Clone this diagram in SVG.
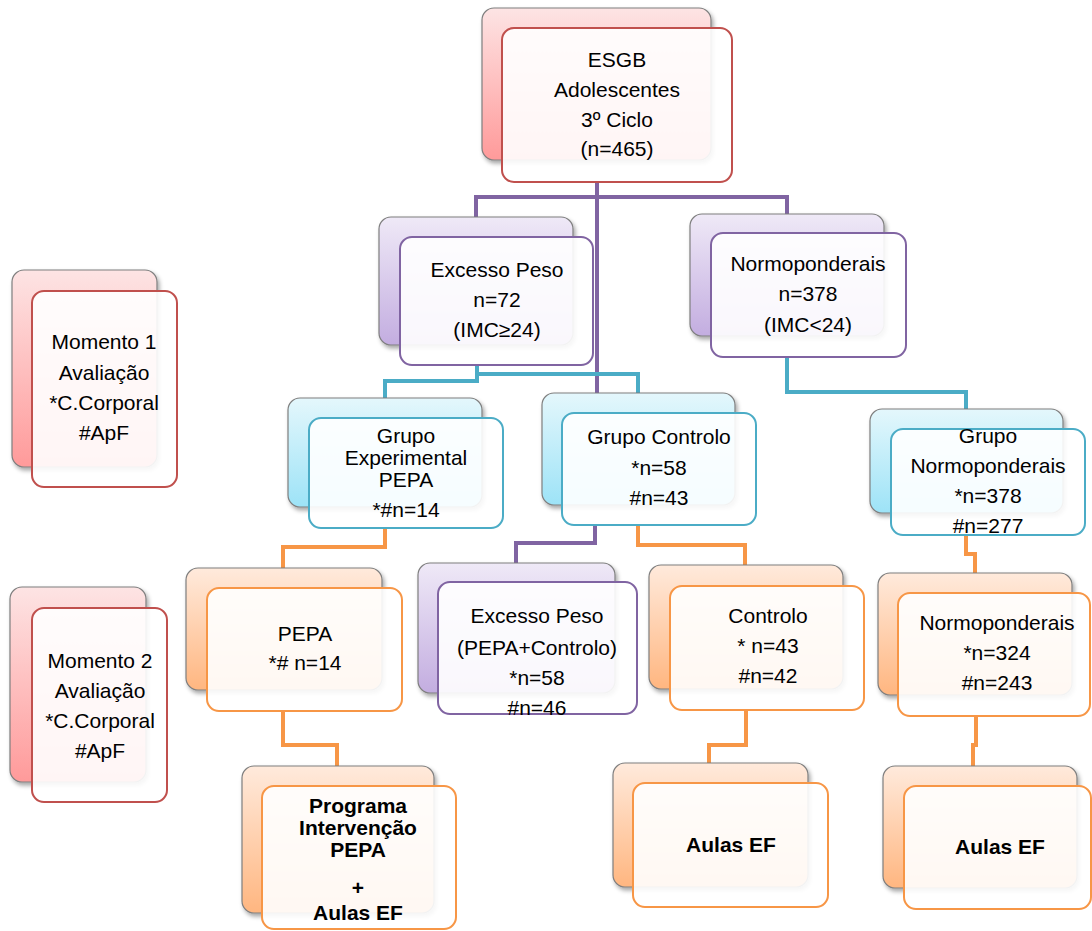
<svg xmlns="http://www.w3.org/2000/svg" width="1092" height="931" viewBox="0 0 1092 931">
<style>
.bk{stroke:#7f7f7f;stroke-width:1.2;filter:url(#sh)}
.fr{fill:#ffffff;fill-opacity:0.9;stroke-width:2}
.r .bk{fill:url(#gr)} .r .fr{stroke:#c0504d}
.p .bk{fill:url(#gp)} .p .fr{stroke:#8064a2}
.t .bk{fill:url(#gt)} .t .fr{stroke:#4bacc6}
.o .bk{fill:url(#go)} .o .fr{stroke:#f79646}
text{font-family:"Liberation Sans",Arial,sans-serif;font-size:21px;fill:#000;text-anchor:middle}
.b{font-weight:bold;font-size:21px}
.c{fill:none;stroke-width:4;stroke-linejoin:miter}
</style>
<defs>
<linearGradient id="gr" x1="0" y1="0" x2="0" y2="1"><stop offset="0" stop-color="#fde4e4"/><stop offset="1" stop-color="#ff9a9a"/></linearGradient>
<linearGradient id="gp" x1="0" y1="0" x2="0" y2="1"><stop offset="0" stop-color="#efe9f7"/><stop offset="1" stop-color="#c3ade0"/></linearGradient>
<linearGradient id="gt" x1="0" y1="0" x2="0" y2="1"><stop offset="0" stop-color="#e4f7fc"/><stop offset="1" stop-color="#9de3f7"/></linearGradient>
<linearGradient id="go" x1="0" y1="0" x2="0" y2="1"><stop offset="0" stop-color="#ffeadc"/><stop offset="1" stop-color="#ffb680"/></linearGradient>
<filter id="sh" x="-10%" y="-10%" width="130%" height="130%"><feDropShadow dx="2" dy="3" stdDeviation="2" flood-color="#000" flood-opacity="0.35"/></filter>
</defs>
<g id="connectors">
<path class="c" stroke="#8064a2" d="M597,182 V197 H476 V217 M597,197 H787 V214 M597,197 V393 M595,525 V543 H516 V563"/>
<path class="c" stroke="#4bacc6" d="M477,365 V381 H385 V398 M477,365 V374 H638 V393 M787,357 V392 H966 V409"/>
<path class="c" stroke="#f79646" d="M385,528 V547 H283 V568 M638,525 V545 H745 V565 M966,535 V554 H975 V573 M283,711 V745 H337 V766 M746,710 V745 H709 V763 M976,716 V745 H973 V766"/>
</g>
<g id="n-esgb" class="r">
<rect class="bk" x="482" y="8" width="229" height="152" rx="12"/>
<rect class="fr" x="502" y="28" width="230" height="154" rx="12"/>
<text x="617" y="67">ESGB</text><text x="617" y="97">Adolescentes</text><text x="617" y="127">3º Ciclo</text><text x="617" y="156">(n=465)</text>
</g>
<g id="n-excesso" class="p">
<rect class="bk" x="379" y="217" width="194" height="128" rx="12"/>
<rect class="fr" x="400" y="237" width="193" height="128" rx="12"/>
<text x="497" y="277">Excesso Peso</text><text x="497" y="307">n=72</text><text x="497" y="337">(IMC≥24)</text>
</g>
<g id="n-normo" class="p">
<rect class="bk" x="690" y="214" width="194" height="122" rx="12"/>
<rect class="fr" x="711" y="233" width="195" height="124" rx="12"/>
<text x="808" y="271">Normoponderais</text><text x="808" y="301">n=378</text><text x="808" y="332">(IMC&lt;24)</text>
</g>
<g id="n-momento1" class="r">
<rect class="bk" x="12" y="270" width="145" height="197" rx="12"/>
<rect class="fr" x="32" y="291" width="145" height="196" rx="12"/>
<text x="104" y="349">Momento 1</text><text x="104" y="380">Avaliação</text><text x="104" y="410">*C.Corporal</text><text x="104" y="440">#ApF</text>
</g>
<g id="n-momento2" class="r">
<rect class="bk" x="10" y="587" width="136" height="195" rx="12"/>
<rect class="fr" x="32" y="608" width="135" height="194" rx="12"/>
<text x="100" y="668">Momento 2</text><text x="100" y="698">Avaliação</text><text x="100" y="728">*C.Corporal</text><text x="100" y="758">#ApF</text>
</g>
<g id="n-grupo-exp" class="t">
<rect class="bk" x="288" y="398" width="194" height="109" rx="12"/>
<rect class="fr" x="309" y="418" width="194" height="110" rx="12"/>
<text x="406" y="443">Grupo</text><text x="406" y="465">Experimental</text><text x="406" y="487">PEPA</text><text x="406" y="517">*#n=14</text>
</g>
<g id="n-grupo-ctrl" class="t">
<rect class="bk" x="542" y="393" width="193" height="112" rx="12"/>
<rect class="fr" x="562" y="413" width="194" height="112" rx="12"/>
<text x="659" y="444">Grupo Controlo</text><text x="659" y="475">*n=58</text><text x="659" y="505">#n=43</text>
</g>
<g id="n-grupo-normo" class="t">
<rect class="bk" x="870" y="409" width="193" height="104" rx="12"/>
<rect class="fr" x="891" y="429" width="194" height="106" rx="12"/>
<text x="988" y="443">Grupo</text><text x="988" y="473">Normoponderais</text><text x="988" y="503">*n=378</text><text x="988" y="533">#n=277</text>
</g>
<g id="n-pepa" class="o">
<rect class="bk" x="186" y="568" width="196" height="122" rx="12"/>
<rect class="fr" x="207" y="588" width="195" height="123" rx="12"/>
<text x="305" y="641">PEPA</text><text x="305" y="670">*# n=14</text>
</g>
<g id="n-excesso-pc" class="p">
<rect class="bk" x="418" y="563" width="197" height="130" rx="12"/>
<rect class="fr" x="438" y="582" width="199" height="132" rx="12"/>
<text x="537" y="623">Excesso Peso</text><text x="537" y="655">(PEPA+Controlo)</text><text x="537" y="685">*n=58</text><text x="537" y="715">#n=46</text>
</g>
<g id="n-controlo" class="o">
<rect class="bk" x="649" y="565" width="194" height="124" rx="12"/>
<rect class="fr" x="670" y="586" width="194" height="124" rx="12"/>
<text x="768" y="623">Controlo</text><text x="768" y="653">* n=43</text><text x="768" y="683">#n=42</text>
</g>
<g id="n-normo-o" class="o">
<rect class="bk" x="878" y="573" width="194" height="122" rx="12"/>
<rect class="fr" x="898" y="593" width="192" height="123" rx="12"/>
<text x="997" y="630">Normoponderais</text><text x="997" y="660">*n=324</text><text x="997" y="690">#n=243</text>
</g>
<g id="n-programa" class="o">
<rect class="bk" x="242" y="766" width="192" height="147" rx="12"/>
<rect class="fr" x="262" y="786" width="194" height="143" rx="12"/>
<text class="b" x="358" y="813">Programa</text><text class="b" x="358" y="835">Intervenção</text><text class="b" x="358" y="857">PEPA</text><text class="b" x="358" y="895">+</text><text class="b" x="358" y="920">Aulas EF</text>
</g>
<g id="n-aulas-ctrl" class="o">
<rect class="bk" x="613" y="763" width="195" height="124" rx="12"/>
<rect class="fr" x="633" y="783" width="195" height="124" rx="12"/>
<text class="b" x="731" y="852">Aulas EF</text>
</g>
<g id="n-aulas-normo" class="o">
<rect class="bk" x="883" y="766" width="194" height="122" rx="12"/>
<rect class="fr" x="904" y="786" width="187" height="123" rx="12"/>
<text class="b" x="1000" y="854">Aulas EF</text>
</g>
</svg>
